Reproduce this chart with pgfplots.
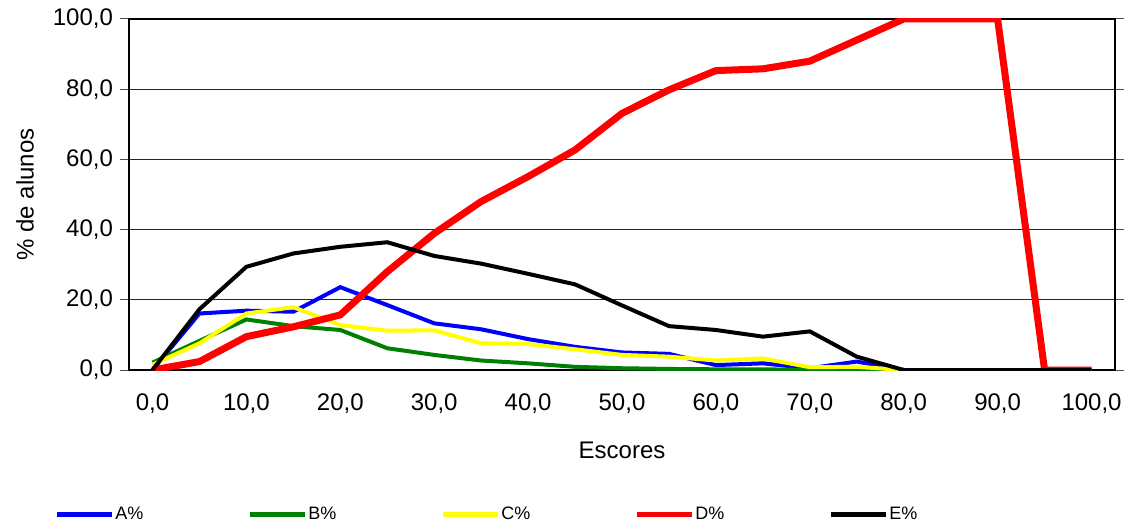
\documentclass[border=0pt]{standalone}
\usepackage{pgfplots}
\pgfplotsset{compat=1.18}
\usepackage{fontspec}
\setmainfont{Liberation Sans}

\definecolor{serA}{RGB}{0,0,255}
\definecolor{serB}{RGB}{0,128,0}
\definecolor{serC}{RGB}{255,255,0}
\definecolor{serD}{RGB}{255,0,0}
\definecolor{serE}{RGB}{0,0,0}

\begin{document}
\begin{tikzpicture}
\begin{axis}[
    scale only axis,
    width=493pt, height=175.5pt,
    xmin=-2.5, xmax=102.5,
    ymin=0, ymax=100,
    font=\fontsize{12}{14}\selectfont,
    /pgf/number format/.cd, fixed, fixed zerofill, precision=1, use comma, assume math mode=true,
    /pgfplots/.cd,
    xtick={0,10,...,100},
    minor xtick={-2.5,2.5,...,102.5},
    ytick={0,20,...,100},
    tick align=outside,
    xtick style={draw=none},
    ytick style={black!70, line width=0.5pt},
    minor x tick style={black!70, line width=0.5pt},
    major tick length=4.5pt,
    minor tick length=4pt,
    xticklabel style={yshift=-4pt},
    ymajorgrids,
    grid style={black!85, line width=0.5pt},
    axis line style={line width=1pt},
    xlabel={Escores},
    ylabel={\% de alunos},
    every axis x label/.style={at={(axis description cs:0.5,-0.228)}, anchor=center},
    every axis y label/.style={at={(axis description cs:-0.1054,0.5)}, rotate=90, anchor=center},
    legend columns=5,
    legend style={draw=none, fill=none, inner sep=0pt,
        font=\fontsize{9}{11}\selectfont,
        nodes={inner sep=0.5pt},
        at={(axis description cs:-0.076,-0.413)}, anchor=west,
        /tikz/every even column/.append style={column sep=51.5pt}},
    legend image code/.code={\draw[#1, line width=2.5pt] (0pt,0pt) -- (27.5pt,0pt);},
]
\addplot[serA, line width=2pt] coordinates {
(0,0) (5,16.1) (10,16.9) (15,16.6) (20,23.6) (25,18.5) (30,13.3) (35,11.6) (40,8.8)
(45,6.6) (50,5.0) (55,4.6) (60,1.4) (65,1.9) (70,0.5) (75,2.4) (80,0) (85,0) (90,0) (95,0) (100,0)};
\addlegendentry{A\%}
\addplot[serB, line width=2pt] coordinates {
(0,2.1) (5,8.3) (10,14.4) (15,12.5) (20,11.4) (25,6.2) (30,4.3) (35,2.7) (40,1.9)
(45,0.9) (50,0.5) (55,0.3) (60,0.2) (65,0.2) (70,0) (75,0) (80,0) (85,0) (90,0) (95,0) (100,0)};
\addlegendentry{B\%}
\addplot[serC, line width=2pt] coordinates {
(0,1.5) (5,7.6) (10,16.1) (15,17.9) (20,12.8) (25,11.2) (30,11.3) (35,7.6) (40,7.4)
(45,5.9) (50,4.3) (55,3.8) (60,2.7) (65,3.3) (70,0.8) (75,0.9) (80,0) (85,0) (90,0) (95,0) (100,0)};
\addlegendentry{C\%}
\addplot[serD, line width=3.5pt] coordinates {
(0,0) (5,2.4) (10,9.5) (15,12.3) (20,15.7) (25,28.0) (30,38.9) (35,48.0) (40,55.1)
(45,62.7) (50,73.1) (55,79.8) (60,85.3) (65,85.8) (70,88.0) (75,94.0) (80,100) (85,100) (90,100) (95,0) (100,0)};
\addlegendentry{D\%}
\addplot[serE, line width=2pt] coordinates {
(0,0) (5,17.3) (10,29.4) (15,33.2) (20,35.1) (25,36.4) (30,32.5) (35,30.3) (40,27.4)
(45,24.4) (50,18.4) (55,12.5) (60,11.4) (65,9.5) (70,11.0) (75,3.8) (80,0) (85,0) (90,0) (95,0) (100,0)};
\addlegendentry{E\%}
\end{axis}
\pgfresetboundingbox
\path[use as bounding box] (-64.5pt,-80pt) rectangle (502.5pt,185pt);
\end{tikzpicture}
\end{document}
